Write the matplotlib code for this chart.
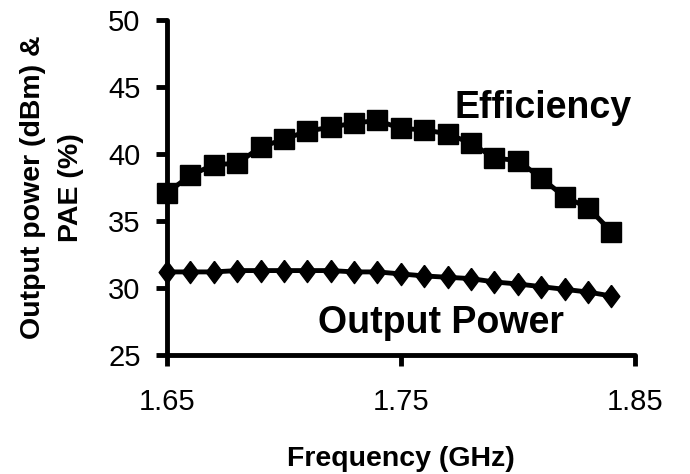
import matplotlib.pyplot as plt

plt.rcParams['font.family'] = ['Liberation Sans', 'DejaVu Sans']

freq = [1.65, 1.66, 1.67, 1.68, 1.69, 1.70, 1.71, 1.72, 1.73, 1.74,
        1.75, 1.76, 1.77, 1.78, 1.79, 1.80, 1.81, 1.82, 1.83, 1.84]
efficiency = [37.1, 38.4, 39.2, 39.3, 40.5, 41.1, 41.7, 42.0, 42.3, 42.5,
              41.9, 41.8, 41.5, 40.8, 39.7, 39.5, 38.2, 36.8, 36.0, 34.2]
out_power = [31.2, 31.2, 31.2, 31.3, 31.3, 31.3, 31.3, 31.3, 31.2, 31.2,
             31.05, 30.9, 30.8, 30.7, 30.45, 30.3, 30.1, 29.9, 29.7, 29.4]

# tall diamond like the Excel marker
diamond = [(0, 1), (0.75, 0), (0, -1), (-0.75, 0), (0, 1)]

fig = plt.figure(figsize=(6.9, 4.74), dpi=100)
ax = fig.add_axes([0.242, 0.251, 0.678, 0.707])

ax.plot(freq, efficiency, color='black', lw=3.5, marker='s', ms=14.5, clip_on=False, zorder=3)
ax.plot(freq, out_power, color='black', lw=3.5, marker=diamond, ms=16, clip_on=False, zorder=3)

ax.text(1.8107, 42.69, 'Efficiency', fontsize=27, fontweight='bold', ha='center', va='baseline')
ax.text(1.7673, 26.64, 'Output Power', fontsize=27, fontweight='bold', ha='center', va='baseline')

ax.set_xlim(1.65, 1.85)
ax.set_ylim(25, 50)
ax.set_xticks([1.65, 1.75, 1.85])
ax.set_xticklabels(['1.65', '1.75', '1.85'])
ax.set_yticks([25, 30, 35, 40, 45, 50])

for side in ['top', 'right']:
    ax.spines[side].set_visible(False)
for side in ['left', 'bottom']:
    ax.spines[side].set_linewidth(3.5)
    ax.spines[side].set_capstyle('round')

ax.tick_params(axis='both', direction='out', length=8, width=3.5, labelsize=21)
ax.tick_params(axis='x', pad=16)
ax.tick_params(axis='y', pad=11)

ax.set_xlabel('Frequency (GHz)', fontsize=20.5, fontweight='bold')
ax.xaxis.set_label_coords(0.5, -0.272)
ax.xaxis.label.set_va('top')
ax.set_ylabel('Output power (dBm) &\nPAE (%)', fontsize=20.5, fontweight='bold', linespacing=1.6)
ax.yaxis.set_label_coords(-0.178, 0.5)

fig.savefig('out.png', dpi=100)
